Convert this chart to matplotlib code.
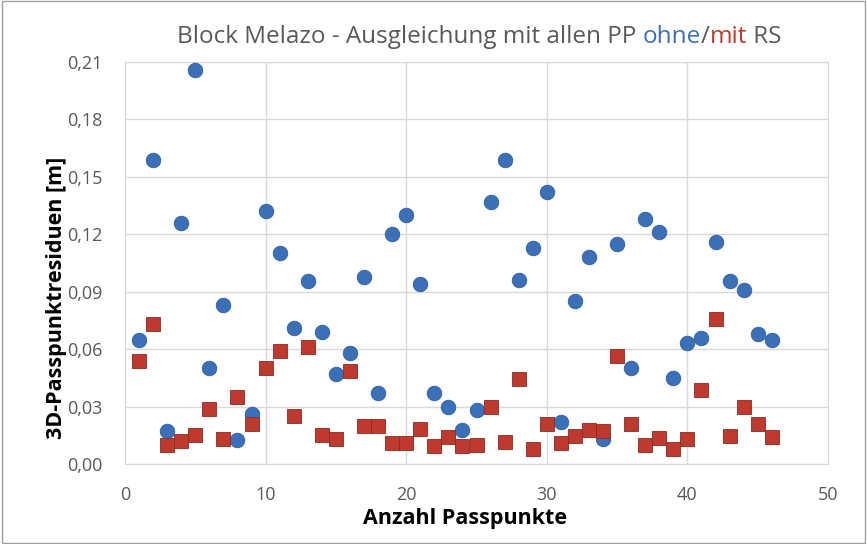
import matplotlib
matplotlib.use("Agg")
from matplotlib import pyplot as plt
from matplotlib.ticker import FuncFormatter, MultipleLocator

# Passpunkt number
punkte = list(range(1, 47))

# 3D residuals without RS (blue)
ohne_rs = [0.065, 0.159, 0.017, 0.126, 0.206, 0.050, 0.083, 0.0125, 0.026, 0.132,
           0.110, 0.071, 0.0955, 0.069, 0.047, 0.058, 0.0975, 0.037, 0.120, 0.130,
           0.094, 0.037, 0.030, 0.0177, 0.028, 0.137, 0.159, 0.096, 0.113, 0.142,
           0.022, 0.085, 0.108, 0.013, 0.115, 0.050, 0.128, 0.121, 0.045, 0.063,
           0.066, 0.116, 0.0955, 0.091, 0.068, 0.065]

# 3D residuals with RS (red)
mit_rs = [0.054, 0.073, 0.010, 0.012, 0.015, 0.029, 0.013, 0.035, 0.021, 0.050,
          0.059, 0.025, 0.061, 0.015, 0.013, 0.0485, 0.020, 0.020, 0.011, 0.011,
          0.0185, 0.0096, 0.014, 0.0096, 0.0099, 0.0296, 0.0117, 0.0443, 0.0078, 0.021,
          0.011, 0.0146, 0.018, 0.017, 0.0565, 0.021, 0.0099, 0.0134, 0.0078, 0.013,
          0.0386, 0.0756, 0.0148, 0.030, 0.021, 0.0139]

blue = "#3B70B9"
red = "#BE3A2E"
grey = "#595959"

plt.rcParams["font.family"] = ["Open Sans", "DejaVu Sans"]

fig = plt.figure(figsize=(8.67, 5.44), dpi=100)
ax = fig.add_axes([0.1442, 0.147, 0.8108, 0.739])

ax.scatter(punkte, ohne_rs, s=110, marker="o", color=blue, edgecolor="#2F5E9E",
           linewidth=0.6, zorder=3)
ax.scatter(punkte, mit_rs, s=105, marker="s", color=red, edgecolor="#8E2A21",
           linewidth=0.6, zorder=3)

ax.set_xlim(0, 50)
ax.set_ylim(0, 0.21)
ax.xaxis.set_major_locator(MultipleLocator(10))
ax.yaxis.set_major_locator(MultipleLocator(0.03))
ax.yaxis.set_major_formatter(FuncFormatter(lambda v, p: f"{v:.2f}".replace(".", ",")))
ax.grid(True, color="#D9D9D9", linewidth=1.0, zorder=0)
ax.set_axisbelow(True)
for sp in ax.spines.values():
    sp.set_color("#D9D9D9")
ax.tick_params(length=0, labelsize=13, colors=grey, pad=16)

ax.set_xlabel("Anzahl Passpunkte", fontsize=15.5, fontweight="bold", labelpad=3)
ax.set_ylabel("3D-Passpunktresiduen [m]", fontsize=15.5, fontweight="bold", labelpad=0)
# Excel centres the axis titles slightly off the plot area centre
ax.xaxis.label.set_x(0.484)
ax.yaxis.label.set_y(0.413)

# title with coloured words, placed piece by piece
pieces = [("Block Melazo - Ausgleichung mit allen PP ", grey), ("ohne", blue),
          ("/", grey), ("mit", red), (" RS", grey)]
fig.canvas.draw()
renderer = fig.canvas.get_renderer()
texts = []
x = 0
for s, c in pieces:
    t = fig.text(x, 0.932, s, color=c, fontsize=17.5, ha="left", va="center")
    fig.canvas.draw()
    bb = t.get_window_extent(renderer)
    texts.append(t)
    x = bb.x1 / fig.bbox.width
total = x
xx = 0.553 - total / 2
for t in texts:
    t.set_x(xx)
    bb = t.get_window_extent(renderer)
    xx += bb.width / fig.bbox.width

fig.patches.append(plt.Rectangle((0.002, 0.002), 0.996, 0.996, transform=fig.transFigure,
                                 fill=False, edgecolor="#A0A0A0", linewidth=1))

fig.savefig("out.png", dpi=100)
